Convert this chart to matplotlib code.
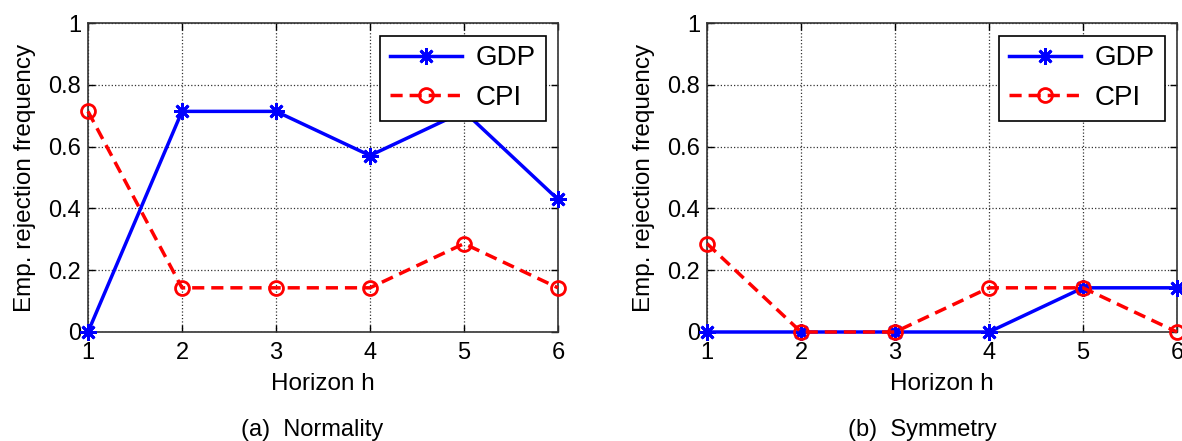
import matplotlib.pyplot as plt

plt.rcParams['font.family'] = ['Liberation Sans', 'DejaVu Sans']

horizon = [1, 2, 3, 4, 5, 6]

# (a) Normality
gdp_norm = [0.0, 0.714, 0.714, 0.571, 0.714, 0.429]
cpi_norm = [0.714, 0.143, 0.143, 0.143, 0.286, 0.143]

# (b) Symmetry
gdp_sym = [0.0, 0.0, 0.0, 0.0, 0.143, 0.143]
cpi_sym = [0.286, 0.0, 0.0, 0.143, 0.143, 0.0]

yticks = [0, 0.2, 0.4, 0.6, 0.8, 1]
ytick_labels = ['0', '0.2', '0.4', '0.6', '0.8', '1']

panels = [
    (gdp_norm, cpi_norm, '(a)  Normality'),
    (gdp_sym, cpi_sym, '(b)  Symmetry'),
]

fig = plt.figure(figsize=(11.82, 4.41), dpi=100)
ax_rects = [
    [88 / 1182, 109 / 441, 470 / 1182, 309 / 441],
    [707 / 1182, 109 / 441, 470 / 1182, 309 / 441],
]
caption_x = [312 / 1182, 922 / 1182]

# MATLAB-style asterisk marker (8 arms)
asterisk = (8, 2, 0)

for i, (gdp, cpi, caption) in enumerate(panels):
    ax = fig.add_axes(ax_rects[i])
    ax.plot(horizon, gdp, color='blue', linestyle='-', linewidth=2.5,
            marker=asterisk, markersize=12, markeredgewidth=2, label='GDP',
            clip_on=False, zorder=3)
    ax.plot(horizon, cpi, color='red', linestyle='--', dashes=(3.5, 2),
            linewidth=2.5, marker='o', markersize=10, markerfacecolor='none',
            markeredgewidth=2, label='CPI', clip_on=False, zorder=4)
    ax.set_xlim(1, 6)
    ax.set_ylim(0, 1)
    ax.set_xticks(horizon)
    ax.set_yticks(yticks)
    ax.set_yticklabels(ytick_labels)
    ax.grid(True, color='black', linestyle=':', linewidth=0.9, alpha=0.8)
    ax.tick_params(axis='both', direction='in', length=5, top=True, right=True,
                   labelsize=17, width=1)
    ax.tick_params(axis='x', pad=7)
    ax.tick_params(axis='y', pad=5)
    for sp in ax.spines.values():
        sp.set_color('#333333')
        sp.set_linewidth(1.2)
    ax.set_xlabel('Horizon h', fontsize=17.5, labelpad=7)
    ax.set_ylabel('Emp. rejection frequency', fontsize=17.5, labelpad=9)
    leg = ax.legend(loc='upper right', fontsize=20, fancybox=False,
                    framealpha=1, edgecolor='black', handlelength=2.6,
                    borderaxespad=0.45, borderpad=0.35, labelspacing=0.5,
                    handletextpad=0.5)
    leg.get_frame().set_linewidth(1.2)
    fig.text(caption_x[i], 1 - 430 / 441, caption, fontsize=17,
             ha='center', va='center')

fig.savefig('out.png', dpi=100)
